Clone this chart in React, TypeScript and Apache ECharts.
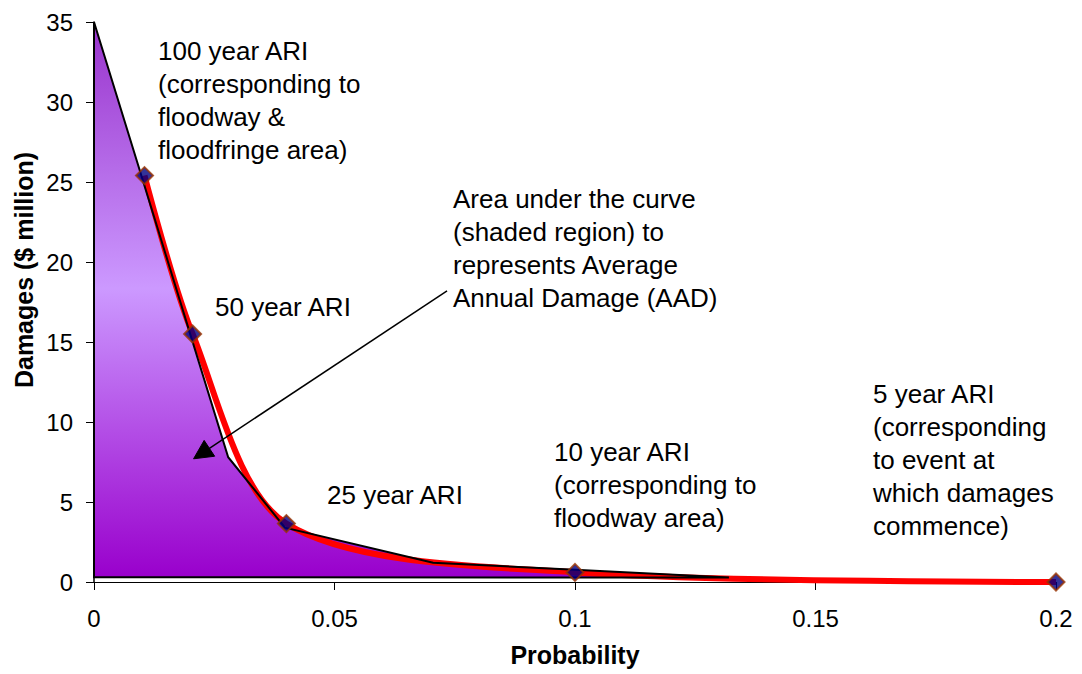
import React, { useEffect, useRef } from "react";
import * as echarts from "echarts";

// Damage–probability curve (points with markers)
const PROBABILITY = [0.0105, 0.0205, 0.04, 0.1, 0.2];
const DAMAGES = [25.4, 15.5, 3.65, 0.6, 0];

// Outline of the shaded area-under-the-curve region
const AREA_X = [0, 0.0279, 0.0397, 0.0705, 0.1, 0.132, 0];
const AREA_Y = [35, 7.8, 3.4, 1.2, 0.76, 0.28, 0.3];

// Arrow from the AAD note to its tip inside the shaded region
const ARROW_FROM = [0.0734, 18.2];
const ARROW_TIP = [0.0207, 7.7];

// Annotation notes
const NOTES = [
  { text: "100 year ARI\n(corresponding to\nfloodway &\nfloodfringe area)", x: 158, y: 34 },
  { text: "Area under the curve\n(shaded region) to\nrepresents Average\nAnnual Damage (AAD)", x: 453, y: 182 },
  { text: "50 year ARI", x: 215, y: 290 },
  { text: "25 year ARI", x: 327, y: 478 },
  { text: "10 year ARI\n(corresponding to\nfloodway area)", x: 554, y: 435 },
  { text: "5 year ARI\n(corresponding\nto event at\nwhich damages\ncommence)", x: 873, y: 377 },
];

const FONT = '"Liberation Sans", Arial, sans-serif';

export default function App() {
  const ref = useRef<HTMLDivElement>(null);

  useEffect(() => {
    if (!ref.current) return;
    const chart = echarts.init(ref.current, null, { renderer: "svg" });

    const areaData = AREA_X.map((x, i) => [x, AREA_Y[i]]);
    const areaPoints = (api: any) => AREA_X.map((x, i) => api.coord([x, AREA_Y[i]]));

    chart.setOption({
      animation: false,
      backgroundColor: "#ffffff",
      textStyle: { fontFamily: FONT },
      grid: { left: 94, right: 26, top: 22, bottom: 92, containLabel: false },
      xAxis: {
        type: "value",
        min: 0,
        max: 0.2,
        interval: 0.05,
        name: "Probability",
        nameLocation: "middle",
        nameGap: 60,
        nameTextStyle: { fontSize: 25, fontWeight: "bold", color: "#000", fontFamily: FONT },
        axisLine: { onZero: false, lineStyle: { color: "#000", width: 1 } },
        axisTick: { show: true, length: 8, lineStyle: { color: "#000" } },
        axisLabel: {
          fontSize: 24,
          color: "#000",
          margin: 24,
          fontFamily: FONT,
          formatter: (v: number) => String(+v.toFixed(2)),
        },
        splitLine: { show: false },
      },
      yAxis: {
        type: "value",
        min: 0,
        max: 35,
        interval: 5,
        axisLine: { show: true, lineStyle: { color: "#000", width: 1.5 } },
        axisTick: { show: true, length: 8, lineStyle: { color: "#000" } },
        axisLabel: { fontSize: 24, color: "#000", margin: 21, fontFamily: FONT },
        splitLine: { show: false },
      },
      graphic: [
        {
          type: "text",
          x: 24,
          y: 270,
          rotation: Math.PI / 2,
          style: {
            text: "Damages ($ million)",
            fontSize: 25,
            fontWeight: "bold",
            fontFamily: FONT,
            fill: "#000",
            align: "center",
            verticalAlign: "middle",
          },
        },
        ...NOTES.map((n) => ({
          type: "text",
          x: n.x,
          y: n.y,
          z: 10,
          style: {
            text: n.text,
            fontSize: 26,
            fontFamily: FONT,
            fill: "#000",
            lineHeight: 33,
            align: "left",
            verticalAlign: "top",
          },
        })),
      ],
      series: [
        {
          // shaded region fill
          type: "custom",
          z: 1,
          encode: { x: 0, y: 1 },
          data: areaData,
          silent: true,
          renderItem: (params: any, api: any) => {
            if (params.dataIndex !== 0) return null;
            return {
              type: "polygon",
              shape: { points: areaPoints(api) },
              style: {
                fill: new echarts.graphic.LinearGradient(0, 0, 0, 1, [
                  { offset: 0, color: "#9933cc" },
                  { offset: 0.48, color: "#cc99ff" },
                  { offset: 1, color: "#9900cc" },
                ]),
                stroke: "none",
              },
            };
          },
        },
        {
          // damage curve
          type: "line",
          z: 2,
          data: PROBABILITY.map((p, i) => [p, DAMAGES[i]]),
          smooth: 0.3,
          showSymbol: false,
          symbol: "none",
          lineStyle: { color: "#ff0000", width: 6 },
          silent: true,
        },
        {
          // shaded region outline
          type: "custom",
          z: 3,
          encode: { x: 0, y: 1 },
          data: areaData,
          silent: true,
          renderItem: (params: any, api: any) => {
            if (params.dataIndex !== 0) return null;
            return {
              type: "polygon",
              shape: { points: areaPoints(api) },
              style: { fill: "none", stroke: "#000", lineWidth: 2 },
            };
          },
        },
        {
          // arrow from the AAD note into the shaded region
          type: "custom",
          z: 5,
          encode: { x: 0, y: 1 },
          data: [ARROW_FROM, ARROW_TIP],
          silent: true,
          renderItem: (params: any, api: any) => {
            if (params.dataIndex !== 0) return null;
            const a = api.coord(ARROW_FROM);
            const b = api.coord(ARROW_TIP);
            const dx = b[0] - a[0];
            const dy = b[1] - a[1];
            const len = Math.sqrt(dx * dx + dy * dy);
            const ux = dx / len;
            const uy = dy / len;
            const headLen = 19;
            const halfW = 9.5;
            const bx = b[0] - ux * headLen;
            const by = b[1] - uy * headLen;
            return {
              type: "group",
              children: [
                {
                  type: "line",
                  shape: { x1: a[0], y1: a[1], x2: bx, y2: by },
                  style: { stroke: "#000", lineWidth: 1.5 },
                },
                {
                  type: "polygon",
                  shape: {
                    points: [
                      [b[0], b[1]],
                      [bx - uy * halfW, by + ux * halfW],
                      [bx + uy * halfW, by - ux * halfW],
                    ],
                  },
                  style: { fill: "#000", stroke: "#000", lineWidth: 1 },
                },
              ],
            };
          },
        },
        {
          // point markers
          type: "scatter",
          z: 4,
          data: PROBABILITY.map((p, i) => [p, DAMAGES[i]]),
          symbol: "diamond",
          symbolSize: 17,
          itemStyle: { color: "#000080", borderColor: "#993300", borderWidth: 2 },
          silent: true,
        },
      ],
    });

    return () => chart.dispose();
  }, []);

  return (
    <div
      ref={ref}
      style={{ position: "fixed", left: 0, top: 0, width: 1082, height: 674, background: "#fff" }}
    />
  );
}
